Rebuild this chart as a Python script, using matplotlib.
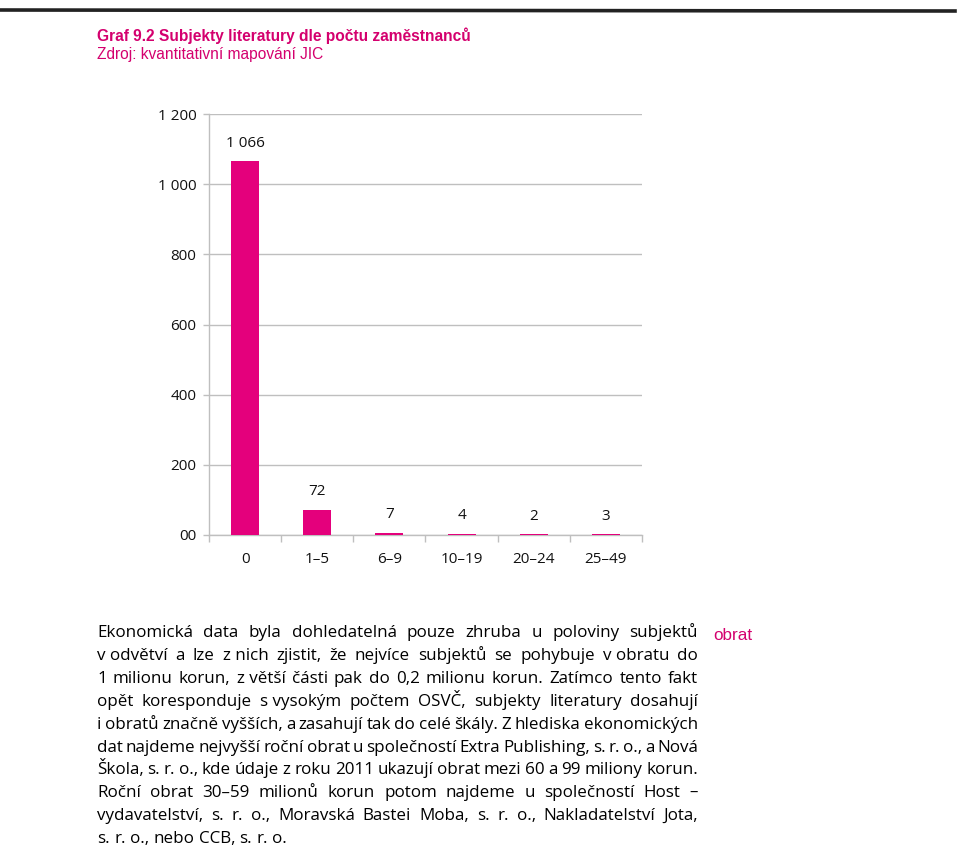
import matplotlib
matplotlib.use("Agg")
import matplotlib.pyplot as plt
from matplotlib.lines import Line2D

categories = ['0', '1–5', '6–9', '10–19', '20–24', '25–49']
values = [1066, 72, 7, 4, 2, 3]
value_labels = ['1 066', '72', '7', '4', '2', '3']
yticks = [0, 200, 400, 600, 800, 1000, 1200]
ytick_labels = ['00', '200', '400', '600', '800', '1 000', '1 200']

title = 'Graf 9.2 Subjekty literatury dle počtu zaměstnanců'
subtitle = 'Zdroj: kvantitativní mapování JIC'
side_note = 'obrat'
paragraph_lines = [
    'Ekonomická data byla dohledatelná pouze zhruba u poloviny subjektů',
    'v\u00a0odvětví a lze z\u00a0nich zjistit, že nejvíce subjektů se pohybuje v\u00a0obratu do',
    '1 milionu korun, z\u00a0větší části pak do 0,2 milionu korun. Zatímco tento fakt',
    'opět koresponduje s\u00a0vysokým počtem OSVČ, subjekty literatury dosahují',
    'i obratů značně vyšších, a zasahují tak do celé škály. Z hlediska ekonomických',
    'dat najdeme nejvyšší roční obrat u společností Extra Publishing, s. r. o., a Nová',
    'Škola, s. r. o., kde údaje z roku 2011 ukazují obrat mezi 60 a 99 miliony korun.',
    'Roční obrat 30–59 milionů korun potom najdeme u společností Host –',
    'vydavatelství, s. r. o., Moravská Bastei Moba, s. r. o., Nakladatelství Jota,',
    's. r. o., nebo CCB, s. r. o.',
]

W, H = 960, 849
magenta = '#E4007C'
title_col = '#D4006E'
grid_col = '#BFBFBF'

fig = plt.figure(figsize=(W / 100, H / 100), dpi=100)
fig.patch.set_facecolor('white')

def fx(px):
    return px / W

def fy(py):
    return 1 - py / H

# scan line at top
fig.add_artist(Line2D([fx(0), fx(955)], [fy(10), fy(11)], color='#222222', lw=2.6, transform=fig.transFigure))

narrow = ['Liberation Sans Narrow', 'Liberation Sans', 'DejaVu Sans']
fig.text(fx(97), fy(36), title, color=title_col, fontsize=11.2, fontweight='bold',
         family=narrow, va='center', ha='left')
fig.text(fx(97), fy(55), subtitle, color=title_col, fontsize=11.2,
         family=narrow, va='center', ha='left')

# chart
left, right, top, bottom = 209, 642, 114, 535
ax = fig.add_axes([fx(left), fy(bottom), fx(right - left), (bottom - top) / H])
x = list(range(len(categories)))
ax.bar(x, values, width=0.39, color=magenta, zorder=3)
ax.set_xlim(-0.5, len(categories) - 0.5)
ax.set_ylim(0, 1200)
ax.set_yticks(yticks)
ax.set_yticklabels(ytick_labels)
ax.yaxis.grid(True, color=grid_col, lw=1)
ax.set_axisbelow(True)
ax.set_xticks(x)
ax.set_xticklabels(categories)
ax.tick_params(axis='x', which='major', length=0, pad=12)
ax.set_xticks([i - 0.5 for i in range(len(categories) + 1)], minor=True)
ax.tick_params(axis='x', which='minor', length=5, color=grid_col, width=1)
ax.tick_params(axis='y', length=4, color=grid_col, width=1, pad=5)
lab_font = ['Open Sans', 'DejaVu Sans']
for lab in ax.get_xticklabels() + ax.get_yticklabels():
    lab.set_fontsize(11)
    lab.set_family(lab_font)
    lab.set_color('#111111')
for s in ['top', 'right']:
    ax.spines[s].set_visible(False)
for s in ['left', 'bottom']:
    ax.spines[s].set_color(grid_col)
    ax.spines[s].set_linewidth(1)
for xi, v, lab in zip(x, values, value_labels):
    ax.annotate(lab, (xi, v), xytext=(0, 7.5), textcoords='offset points',
                ha='center', va='bottom', fontsize=11, family=lab_font, color='#111111')

# paragraph text, justified
body_font = ['Open Sans', 'DejaVu Sans']
x0, x1 = 97, 698
baseline0, step = 637, 22.9
renderer = fig.canvas.get_renderer()

def natural_width(s, size):
    t = fig.text(0, 0, s.replace('\u00a0', ' '), fontsize=size, family=body_font)
    w = t.get_window_extent(renderer).width
    t.remove()
    return w

# calibrate size so that lines fill the column roughly like in the original
fs_a = 12 * (x1 - x0 - 2) / natural_width(paragraph_lines[6], 12)
fs_b = 12 * (x1 - x0 - 30) / natural_width(paragraph_lines[0], 12)
fs = 0.7 * fs_a + 0.3 * fs_b

for i, line in enumerate(paragraph_lines):
    yb = fy(baseline0 + i * step)
    justify = i != len(paragraph_lines) - 1
    words = line.split(' ')
    texts = [fig.text(0, yb, w.replace('\u00a0', ' '), fontsize=fs, family=body_font,
                      va='baseline', ha='left', color='#000000') for w in words]
    widths = [t.get_window_extent(renderer).width for t in texts]
    if justify and len(words) > 1:
        gap = ((x1 - x0) - sum(widths)) / (len(words) - 1)
    else:
        gap = natural_width('a a', fs) - natural_width('aa', fs)
    pos = x0
    for t, wdt in zip(texts, widths):
        t.set_x(fx(pos))
        pos += wdt + gap

fig.text(fx(713), fy(636), side_note, color=title_col, fontsize=12.3,
         family=['Liberation Sans', 'DejaVu Sans'], va='center', ha='left')

fig.savefig('out.png', dpi=100, facecolor='white')
